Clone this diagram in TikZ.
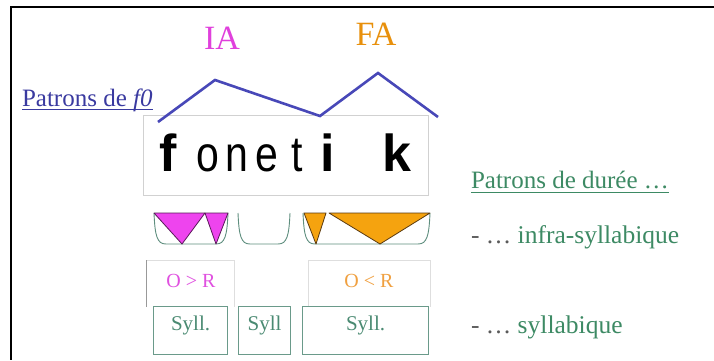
\documentclass[tikz,border=0pt]{standalone}
\usepackage{fontspec}
\usepackage{graphicx}
\setmainfont{Liberation Serif}
\newfontfamily\arialfont{Liberation Sans}
\usetikzlibrary{calc}

\definecolor{iacol}{HTML}{E040DC}
\definecolor{facol}{HTML}{E8900C}
\definecolor{fzerocol}{HTML}{3A3AA0}
\definecolor{fzeroline}{HTML}{4848B8}
\definecolor{durcol}{HTML}{3D8A64}
\definecolor{dashcol}{HTML}{5A5A5A}
\definecolor{tubcol}{HTML}{5E8E7E}
\definecolor{magfill}{HTML}{EE44EE}
\definecolor{magedge}{HTML}{5A1A5A}
\definecolor{orfill}{HTML}{F5A30F}
\definecolor{oredge}{HTML}{5A3A10}
\definecolor{oglab}{HTML}{E050E0}
\definecolor{oolab}{HTML}{F0A040}
\definecolor{syllcol}{HTML}{6A9A8A}
\definecolor{sylltext}{HTML}{4A8A72}

% narrow glyphs of the phonetic word
\newcommand\narrowglyph[1]{\scalebox{0.82}[1]{#1}}

\tikzset{
  lbl/.style={inner sep=0pt, outer sep=0pt},
  letter/.style={lbl, anchor=base, font=\arialfont\fontsize{50}{50}\selectfont},
  boldletter/.style={letter, font=\arialfont\bfseries\fontsize{52}{52}\selectfont},
  tubline/.style={draw=tubcol, line width=0.9pt},
  magtri/.style={fill=magfill, draw=magedge, line width=0.8pt, line join=round},
  ortri/.style={fill=orfill, draw=oredge, line width=0.8pt, line join=round},
  ratiobox/.style={draw=black!13, line width=0.8pt},
  syllbox/.style={draw=syllcol, line width=1.2pt, fill=white},
  sylllabel/.style={lbl, text=sylltext, font=\fontsize{21}{21}\selectfont},
}

% open-topped duration container with rounded bottom corners
\newcommand\durtub[2]{%
  \draw[tubline] (#1,213) .. controls ({#1+1},236) and ({#1+3},244) .. ({#1+12},244)
    -- ({#2-12},244) .. controls ({#2-3},244) and ({#2-1},236) .. (#2,213);}

\begin{document}
\begin{tikzpicture}[x=1pt,y=-1pt]
\useasboundingbox (0,0) rectangle (714,360);
\fill[white] (0,0) rectangle (714,360);

% frame
\coordinate (frtr) at (714,7);
\coordinate (frtl) at (11,7);
\coordinate (frbl) at (11,360);
\draw[line width=2.5pt] (frtr) -- (frtl) -- (frbl);

% accent labels
\node[lbl, anchor=base, text=iacol, font=\fontsize{34}{34}\selectfont] (ia) at (222,49) {IA};
\node[lbl, anchor=base, text=facol, font=\fontsize{34}{34}\selectfont] (fa) at (376,45) {FA};

% f0 pattern title
\node[lbl, anchor=base west, text=fzerocol, font=\fontsize{25}{25}\selectfont] (pf) at (22,106) {Patrons de \textit{f0}};
\draw[fzerocol, line width=0.9pt] ($(pf.base west)+(0,3)$) -- ($(pf.base east)+(0,3)$);

% word box
\node[draw=black!18, line width=0.8pt, anchor=north west, minimum width=285pt, minimum height=80pt, inner sep=0pt] (wordbox) at (143,115) {};

% f0 contour
\coordinate (c1) at (158,122);
\coordinate (c2) at (215,80);
\coordinate (c3) at (320,116);
\coordinate (c4) at (378,73);
\coordinate (c5) at (438,117);
\draw[fzeroline, line width=2.6pt, line join=miter] (c1) -- (c2) -- (c3) -- (c4) -- (c5);

% phonetic word
\node[boldletter] (lf) at (168,171) {f};
\node[letter] (lo) at (208,171) {\narrowglyph{o}};
\node[letter] (ln) at (237,171) {\narrowglyph{n}};
\node[letter] (le) at (267,171) {\narrowglyph{e}};
\node[letter] (lt) at (297,171) {\narrowglyph{t}};
\node[boldletter] (li) at (328,171) {i};
\node[boldletter] (lk) at (397,171) {k};

% infra-syllabic duration containers
\durtub{154}{228}
\durtub{238}{290}
\durtub{303}{430}

\coordinate (m1) at (154,213);
\coordinate (m2) at (205,213);
\coordinate (m3) at (228,213);
\coordinate (ma) at (182,244);
\coordinate (mb) at (216,244);
\draw[magtri] (m1) -- (m2) -- (ma) -- cycle;
\draw[magtri] (m2) -- (m3) -- (mb) -- cycle;

\coordinate (o1) at (304,213);
\coordinate (o2) at (326,213);
\coordinate (o3) at (329,213);
\coordinate (o4) at (430,213);
\coordinate (oa) at (316,244);
\coordinate (ob) at (380,244);
\draw[ortri] (o1) -- (o2) -- (oa) -- cycle;
\draw[ortri] (o3) -- (o4) -- (ob) -- cycle;

% onset / rhyme ratio labels
\draw[ratiobox] (146,307) -- (146,260) -- (234,260) -- (234,307);
\draw[black!40, line width=0.8pt] (146,260) -- (146,307);
\node[lbl, anchor=base, text=oglab, font=\fontsize{20}{20}\selectfont] (ogr) at (191,287) {O > R};
\draw[ratiobox] (308,307) -- (308,260) -- (430,260) -- (430,307);
\node[lbl, anchor=base, text=oolab, font=\fontsize{20}{20}\selectfont] (olr) at (369,287) {O < R};

% syllables
\node[syllbox, anchor=north west, minimum width=74pt, minimum height=48pt, inner sep=0pt] (s1) at (153,306) {};
\node[syllbox, anchor=north west, minimum width=52pt, minimum height=48pt, inner sep=0pt] (s2) at (238,306) {};
\node[syllbox, anchor=north west, minimum width=126pt, minimum height=48pt, inner sep=0pt] (s3) at (302,306) {};
\node[sylllabel, anchor=base] at ($(s1.north)+(0,24)$) {Syll.};
\node[sylllabel, anchor=base] at ($(s2.north)+(0,24)$) {Syll};
\node[sylllabel, anchor=base] at ($(s3.north)+(0,24)$) {Syll.};

% duration pattern legend
\node[lbl, anchor=base west, text=durcol, font=\fontsize{25}{25}\selectfont] (pd) at (471,188) {Patrons de durée …};
\draw[durcol, line width=0.9pt] ($(pd.base west)+(0,4)$) -- ($(pd.base east)+(0,4)$);
\node[lbl, anchor=base west, font=\fontsize{25.5}{25.5}\selectfont] (inf) at (471,243) {\textcolor{dashcol}{- …} \textcolor{durcol}{infra-syllabique}};
\node[lbl, anchor=base west, font=\fontsize{25.5}{25.5}\selectfont] (syl) at (471,333) {\textcolor{dashcol}{- …} \textcolor{durcol}{syllabique}};
\end{tikzpicture}
\end{document}
